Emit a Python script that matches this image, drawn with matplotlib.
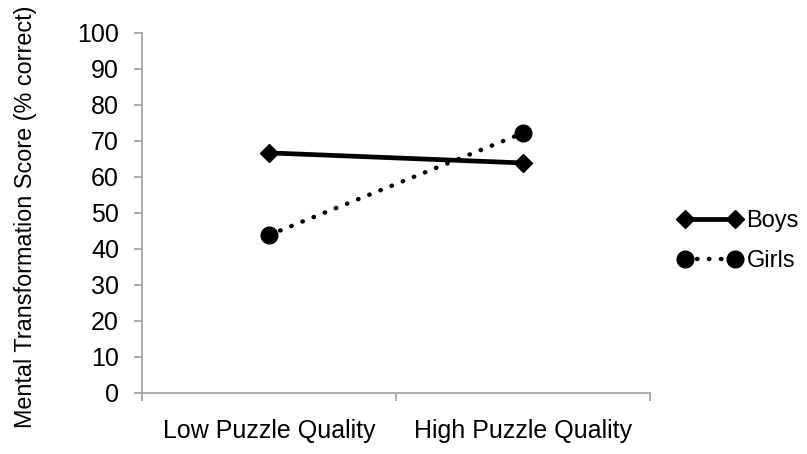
import matplotlib
matplotlib.use("Agg")
import matplotlib.pyplot as plt

# data
categories = ["Low Puzzle Quality", "High Puzzle Quality"]
boys = [66.7, 63.9]
girls = [43.9, 72.2]
y_ticks = [0, 10, 20, 30, 40, 50, 60, 70, 80, 90, 100]

plt.rcParams['font.family'] = ['Liberation Sans', 'DejaVu Sans']

fig = plt.figure(figsize=(8.07, 4.54), dpi=100)
ax = fig.add_axes([142 / 807, 1 - 393 / 454, (650 - 142) / 807, 360 / 454])

pos = [0.5, 1.5]  # category centres
ax.plot(pos, boys, color='black', lw=3.4, marker='D', ms=9,
        solid_capstyle='butt', label='Boys')
ax.plot(pos, girls, color='black', lw=3.2, marker='o', ms=12,
        linestyle=(0, (0.1, 2.6)), dash_capstyle='round', label='Girls')

ax.set_xlim(0, 2)
ax.set_ylim(0, 100)
ax.set_yticks(y_ticks)
ax.set_xticks([0, 1, 2])
ax.set_xticklabels([])
ax.set_xticks(pos, minor=True)
ax.set_xticklabels(categories, minor=True)

grey = '#a6a6a6'
for side in ['top', 'right']:
    ax.spines[side].set_visible(False)
for side in ['left', 'bottom']:
    ax.spines[side].set_color(grey)
    ax.spines[side].set_linewidth(1.3)

ax.tick_params(axis='y', which='major', length=5.5, width=1.3, color=grey,
               labelsize=18, pad=11)
ax.tick_params(axis='x', which='major', length=5.5, width=1.3, color=grey)
ax.tick_params(axis='x', which='minor', length=0, labelsize=18, pad=19)

ax.set_ylabel('Mental Transformation Score (% correct)', fontsize=16.8)
ax.yaxis.set_label_coords(-0.207, 0.49)

ax.legend(loc='center left', bbox_to_anchor=(678 / 807, 1 - 241 / 454),
          bbox_transform=fig.transFigure, frameon=False, fontsize=17,
          numpoints=2, handlelength=2.7, handletextpad=0.2, labelspacing=0.75,
          borderpad=0, borderaxespad=0)

fig.savefig('out.png', dpi=100)
